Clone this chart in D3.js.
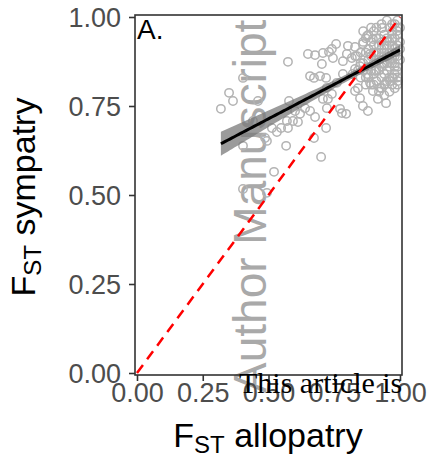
<!DOCTYPE html>
<html><head><meta charset="utf-8">
<script src="https://cdn.jsdelivr.net/npm/d3@7"></script>
<style>html,body{margin:0;padding:0;background:#fff;}svg{display:block;font-family:"Liberation Sans",Arial,sans-serif;}</style>
</head><body>
<svg id="chart" width="428" height="459"></svg>
<script>
// F_ST allopatry (x) and F_ST sympatry (y) for each point
const fstAllopatry = [
0.319,0.350,0.365,0.403,0.460,0.574,0.578,0.403,0.494,0.532,0.567,0.574,0.612,0.620,0.658,0.677,0.673,0.700,0.719,0.677,
0.673,0.719,0.730,0.757,0.760,0.795,0.829,0.878,0.947,0.521,0.403,0.494,0.441,0.513,0.593,0.601,0.639,0.650,0.658,0.696,
0.707,0.703,0.741,0.745,0.722,0.741,0.726,0.707,0.722,0.772,0.779,0.798,0.802,0.783,0.783,0.817,0.837,0.829,0.848,0.829,
0.848,0.859,0.859,0.875,0.897,0.932,0.886,0.875,0.886,0.897,0.916,0.924,0.905,0.935,0.951,0.970,0.989,0.981,0.970,0.973,
0.989,0.992,0.962,0.943,0.570,0.487,0.548,
0.86,0.87,0.88,0.89,0.90,0.90,0.91,0.91,0.92,0.92,0.93,0.93,0.94,0.94,0.95,0.95,0.95,0.96,0.96,0.96,
0.97,0.97,0.97,0.98,0.98,0.98,0.99,0.99,0.99,1.00,1.00,1.00,0.88,0.89,0.90,0.92,0.93,0.94,0.96,0.97,
0.98,0.99,0.87,0.86,0.85,0.84,0.85,0.83,0.82,0.84,0.91,0.93,0.95,0.97,0.99,0.92,0.94,0.96,0.98,0.90,
0.88,0.86,0.89,0.95,0.97,0.99,0.93,0.91,0.89,
0.87,0.88,0.89,0.90,0.91,0.92,0.93,0.94,0.95,0.96,0.97,0.98,0.99,0.99,1.00,0.91,0.93,0.95,0.97,0.98,
0.96,0.94,0.92,0.90,0.88,0.86,0.85,0.87,0.94,0.98];
const fstSympatry = [
0.742,0.787,0.764,0.829,0.764,0.874,0.764,0.638,0.652,0.677,0.638,0.688,0.705,0.728,0.736,0.719,0.660,0.607,0.688,0.893,
0.829,0.829,0.902,0.924,0.815,0.728,0.916,0.736,0.758,0.565,0.517,0.506,0.708,0.688,0.708,0.736,0.744,0.896,0.834,0.834,
0.899,0.868,0.910,0.885,0.801,0.784,0.770,0.770,0.744,0.742,0.730,0.896,0.919,0.876,0.840,0.885,0.890,0.854,0.862,0.792,
0.772,0.750,0.924,0.947,0.938,0.969,0.896,0.840,0.815,0.792,0.770,0.801,0.848,0.868,0.933,0.952,0.961,0.913,0.885,0.829,
0.848,0.820,0.820,0.812,0.708,0.660,0.688,
0.93,0.90,0.95,0.89,0.92,0.96,0.90,0.85,0.94,0.88,0.91,0.83,0.95,0.87,0.92,0.89,0.82,0.97,0.93,0.86,
0.90,0.94,0.83,0.98,0.91,0.87,0.95,0.89,0.92,0.97,0.93,0.88,0.86,0.81,0.84,0.79,0.86,0.81,0.79,0.81,
0.84,0.81,0.83,0.87,0.90,0.85,0.83,0.89,0.84,0.80,0.97,0.98,0.99,0.98,0.99,0.92,0.90,0.90,0.94,0.87,
0.91,0.96,0.97,0.85,0.87,0.86,0.80,0.82,0.85,
0.94,0.88,0.93,0.90,0.94,0.90,0.93,0.92,0.94,0.88,0.96,0.89,0.97,0.83,0.91,0.87,0.89,0.87,0.92,0.86,
0.83,0.84,0.85,0.81,0.83,0.85,0.87,0.81,0.78,0.80];
const xTicks = [0, 0.25, 0.5, 0.75, 1];
const yTicks = [0, 0.25, 0.5, 0.75, 1];
const xTickLabels = ["0.00","0.25","0.50","0.75","1.00"];
const yTickLabels = ["0.00","0.25","0.50","0.75","1.00"];
const panelLabel = "A.";
const xTitle = {main:"F", sub:"ST", rest:" allopatry"};
const yTitle = {main:"F", sub:"ST", rest:" sympatry"};
const watermark = "Author Manuscript";
const footerText = "This article is";

const svg = d3.select("#chart");
const P = {l:135, r:402, t:15, b:375};
const x = d3.scaleLinear().domain([0,1]).range([137,400]);
const y = d3.scaleLinear().domain([0,1]).range([373,17]);
const pts = fstAllopatry.map((v,i)=>({x:v, y:fstSympatry[i]}));

// watermark
svg.append("text").attr("transform",`translate(266,393) rotate(-90)`)
  .attr("font-size",46).attr("fill","#a9a9a9").text(watermark);

// points
svg.append("g").selectAll("circle").data(pts).join("circle")
  .attr("cx",d=>x(d.x)).attr("cy",d=>y(d.y)).attr("r",4.2)
  .attr("fill","none").attr("stroke","#b3b3b3").attr("stroke-width",1.5);

// linear regression with 95% CI
const n = pts.length;
const mx = d3.mean(pts,d=>d.x), my = d3.mean(pts,d=>d.y);
const sxx = d3.sum(pts,d=>(d.x-mx)**2), sxy = d3.sum(pts,d=>(d.x-mx)*(d.y-my));
const b = sxy/sxx, a = my - b*mx;
const s = Math.sqrt(d3.sum(pts,d=>(d.y-(a+b*d.x))**2)/(n-2));
const tq = 1.972;
const xmin = d3.min(pts,d=>d.x), xmax = d3.max(pts,d=>d.x);
const xs = d3.range(0,81).map(i=>xmin+(xmax-xmin)*i/80);
const band = xs.map(v=>{const f=a+b*v, se=s*Math.sqrt(1/n+(v-mx)**2/sxx); return {x:v,lo:f-tq*se,hi:f+tq*se,f};});
svg.append("path").datum(band).attr("d",d3.area().x(d=>x(d.x)).y0(d=>y(d.lo)).y1(d=>y(d.hi)))
  .attr("fill","#7a7a7a").attr("opacity",0.75);
svg.append("path").datum(band).attr("d",d3.line().x(d=>x(d.x)).y(d=>y(d.f)))
  .attr("fill","none").attr("stroke","#000").attr("stroke-width",3);

// 1:1 line
svg.append("path").datum([0,1]).attr("d",d3.line().x(d=>x(d)).y(d=>y(d)))
  .attr("fill","none").attr("stroke","#ff0000").attr("stroke-width",2.5).attr("stroke-dasharray","10,7");

// panel border
svg.append("rect").attr("x",P.l).attr("y",P.t).attr("width",P.r-P.l).attr("height",P.b-P.t)
  .attr("fill","none").attr("stroke","#333").attr("stroke-width",1.6);

// axes
const yAxis = d3.axisLeft(y).tickValues(yTicks).tickFormat((d,i)=>yTickLabels[i]).tickSize(6).tickSizeOuter(0);
const gy = svg.append("g").attr("transform",`translate(${P.l},0)`).call(yAxis);
const xAxis = d3.axisBottom(x).tickValues(xTicks).tickFormat((d,i)=>xTickLabels[i]).tickSize(6).tickSizeOuter(0);
const gx = svg.append("g").attr("transform",`translate(0,${P.b})`).call(xAxis);
[gx,gy].forEach(g=>{
  g.select(".domain").remove();
  g.selectAll(".tick line").attr("stroke","#333").attr("stroke-width",1.6);
  g.selectAll(".tick text").attr("fill","#4d4d4d").attr("font-size",27).attr("font-family","Liberation Sans, Arial, sans-serif");
});
gy.selectAll(".tick text").attr("x",-14).attr("dy","0.36em");
gx.selectAll(".tick text").attr("y",8).attr("dy","0.71em");

// panel label
svg.append("text").attr("x",137).attr("y",39).attr("font-size",28).attr("fill","#000").text(panelLabel);

// axis titles
const xt = svg.append("text").attr("x",268).attr("y",447).attr("text-anchor","middle").attr("font-size",34).attr("fill","#000");
xt.append("tspan").text(xTitle.main);
xt.append("tspan").attr("font-size",24).attr("dy",6).text(xTitle.sub);
xt.append("tspan").attr("dy",-6).text(xTitle.rest);
const yt = svg.append("text").attr("transform","translate(35,197) rotate(-90)").attr("text-anchor","middle").attr("font-size",34).attr("fill","#000");
yt.append("tspan").text(yTitle.main);
yt.append("tspan").attr("font-size",24).attr("dy",6).text(yTitle.sub);
yt.append("tspan").attr("dy",-6).text(yTitle.rest);

// footer overlay text
svg.append("text").attr("x",239).attr("y",393).attr("font-family","Liberation Serif, Times New Roman, serif")
  .attr("font-size",30).attr("fill","#000").text(footerText);
</script>
</body></html>
